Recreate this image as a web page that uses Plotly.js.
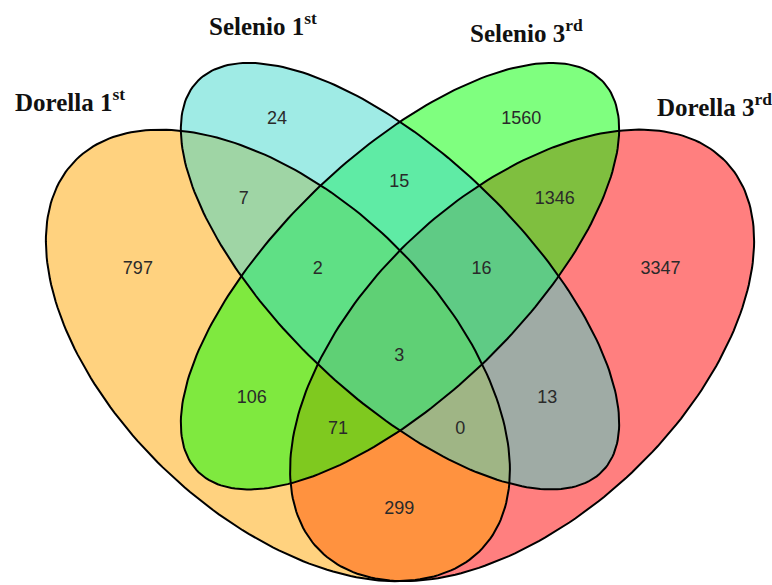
<!DOCTYPE html>
<html><head><meta charset="utf-8">
<script src="https://cdn.plot.ly/plotly-3.0.1.min.js"></script>
<style>html,body{margin:0;padding:0;background:#fff;}#chart{width:772px;height:585px;}</style>
</head><body><div id="chart"></div>
<script>
// ---- data ----
const setNames = ["Dorella 1<sup>st</sup>", "Selenio 1<sup>st</sup>", "Selenio 3<sup>rd</sup>", "Dorella 3<sup>rd</sup>"];
const regionKeys = ["A","B","C","D","AB","BC","CD","AD","AC","BD","ABC","BCD","ACD","ABD","ABCD"];
const regionCounts = [797, 24, 1560, 3347, 7, 15, 1346, 299, 106, 13, 2, 16, 71, 0, 3];

// ---- layout / geometry (unit square, like VennDiagram quad layout) ----
const regionPos = {
  A:[0.178,0.578], B:[0.349,0.768], C:[0.649,0.768], D:[0.820,0.578],
  AB:[0.308,0.667], BC:[0.499,0.688], CD:[0.690,0.667], AD:[0.499,0.276],
  AC:[0.318,0.416], BD:[0.681,0.416], ABC:[0.399,0.578], BCD:[0.600,0.578],
  ACD:[0.424,0.377], ABD:[0.574,0.377], ABCD:[0.499,0.468]
};
const ellipses = [ // cx, cy, a, b, rotation(deg)
  {cx:0.35, cy:0.47, a:0.35, b:0.20, rot:135, fill:'rgba(255,165,0,0.5)'},
  {cx:0.50, cy:0.57, a:0.35, b:0.15, rot:135, fill:'rgba(64,216,204,0.5)'},
  {cx:0.50, cy:0.57, a:0.35, b:0.15, rot:45,  fill:'rgba(0,255,0,0.5)'},
  {cx:0.65, cy:0.47, a:0.35, b:0.20, rot:45,  fill:'rgba(255,0,0,0.5)'}
];
const titlePos = [[0.095,0.793],[0.332,0.888],[0.656,0.879],[0.886,0.786]];
const drawOrder = [3,0,2,1];

function ellipsePts(e){
  const xs=[], ys=[], n=240, r=e.rot*Math.PI/180;
  for(let i=0;i<=n;i++){
    const t=2*Math.PI*i/n;
    xs.push(e.cx + e.a*Math.cos(t)*Math.cos(r) - e.b*Math.sin(t)*Math.sin(r));
    ys.push(e.cy + e.a*Math.cos(t)*Math.sin(r) + e.b*Math.sin(t)*Math.cos(r));
  }
  return [xs,ys];
}

const traces = [];
drawOrder.forEach(i=>{
  const [xs,ys]=ellipsePts(ellipses[i]);
  traces.push({x:xs,y:ys,type:'scatter',mode:'lines',fill:'toself',fillcolor:ellipses[i].fill,
    line:{width:0,color:'rgba(0,0,0,0)'},hoverinfo:'skip'});
});
ellipses.forEach(e=>{
  const [xs,ys]=ellipsePts(e);
  traces.push({x:xs,y:ys,type:'scatter',mode:'lines',line:{width:2,color:'#000'},hoverinfo:'skip'});
});
traces.push({
  x: regionKeys.map(k=>regionPos[k][0]),
  y: regionKeys.map(k=>regionPos[k][1]),
  text: regionCounts.map(String),
  type:'scatter', mode:'text',
  textfont:{family:'"Liberation Sans", Arial, sans-serif', size:18, color:'#2a2a2a'},
  hoverinfo:'skip'
});

const annotations = setNames.map((s,i)=>({
  x:titlePos[i][0], y:titlePos[i][1], xref:'x', yref:'y', text:'<b>'+s+'</b>', showarrow:false,
  xanchor:'center', yanchor:'middle',
  font:{family:'"Liberation Serif", "Times New Roman", serif', size:25, color:'#111'}
}));

const layout = {
  width:772, height:585, margin:{l:0,r:0,t:0,b:0},
  paper_bgcolor:'#fff', plot_bgcolor:'#fff', showlegend:false, hovermode:false,
  xaxis:{range:[0.0086,0.9570], visible:false, fixedrange:true},
  yaxis:{range:[0.1801,0.9187], visible:false, fixedrange:true},
  annotations: annotations
};
Plotly.newPlot('chart', traces, layout, {displayModeBar:false, staticPlot:true});
</script></body></html>
